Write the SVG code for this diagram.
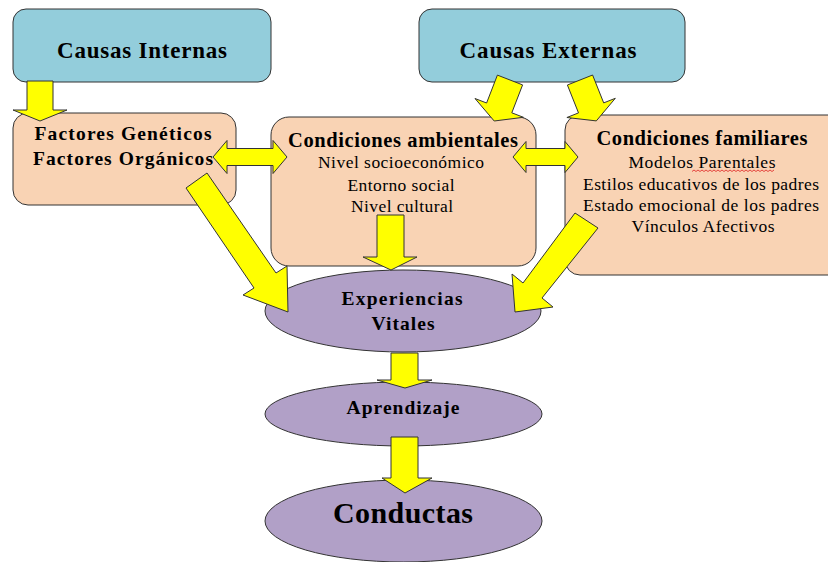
<svg xmlns="http://www.w3.org/2000/svg" width="828" height="562" viewBox="0 0 828 562">
<style>
  .blue { fill: #93CDDB; stroke: #333; stroke-width: 1; }
  .peach { fill: #F9D3B4; stroke: #333; stroke-width: 1; }
  .oval { fill: #B1A0C7; stroke: #333; stroke-width: 1; }
  .arrow { fill: #FFFF00; stroke: #333; stroke-width: 1; stroke-linejoin: miter; }
  text { font-family: "Liberation Serif", "Times New Roman", serif; fill: #000; text-anchor: middle; }
  .b { font-weight: bold; }
  .t24 { font-size: 23px; }
  .t19 { font-size: 20.5px; }
  .t18 { font-size: 19.5px; }
  .t17 { font-size: 17.5px; }
  .t30 { font-size: 30px; }
</style>
<rect width="828" height="562" fill="#FFFFFF"/>
<g id="causas-internas">
  <rect class="blue" x="13" y="9" width="258" height="73" rx="13"/>
  <text class="b t24" x="142" y="58" textLength="170" lengthAdjust="spacing">Causas Internas</text>
</g>
<g id="causas-externas">
  <rect class="blue" x="419" y="9" width="266" height="73" rx="13"/>
  <text class="b t24" x="548" y="58" textLength="177" lengthAdjust="spacing">Causas Externas</text>
</g>
<g id="factores">
  <rect class="peach" x="13" y="113" width="223" height="92" rx="15"/>
  <text class="b t18" x="123" y="140" textLength="177" lengthAdjust="spacing">Factores Genéticos</text>
  <text class="b t18" x="123" y="165" textLength="180" lengthAdjust="spacing">Factores Orgánicos</text>
</g>
<g id="condiciones-ambientales">
  <rect class="peach" x="271" y="117" width="265" height="149" rx="18"/>
  <text class="b t19" x="403" y="147" textLength="230" lengthAdjust="spacing">Condiciones ambientales</text>
  <text class="t17" x="401" y="168" textLength="166" lengthAdjust="spacing">Nivel socioeconómico</text>
  <text class="t17" x="401" y="191" textLength="107" lengthAdjust="spacing">Entorno social</text>
  <text class="t17" x="402" y="212" textLength="102" lengthAdjust="spacing">Nivel cultural</text>
</g>
<g id="condiciones-familiares">
  <rect class="peach" x="565" y="115" width="280" height="160" rx="15"/>
  <text class="b t19" x="702" y="145" textLength="211" lengthAdjust="spacing">Condiciones familiares</text>
  <text class="t17" x="702" y="168" textLength="147" lengthAdjust="spacing">Modelos Parentales</text>
  <path d="M692 171.5 l2 -1.5 l2 1.5 l2 -1.5 l2 1.5 l2 -1.5 l2 1.5 l2 -1.5 l2 1.5 l2 -1.5 l2 1.5 l2 -1.5 l2 1.5 l2 -1.5 l2 1.5 l2 -1.5 l2 1.5 l2 -1.5 l2 1.5 l2 -1.5 l2 1.5 l2 -1.5 l2 1.5 l2 -1.5 l2 1.5 l2 -1.5 l2 1.5 l2 -1.5 l2 1.5 l2 -1.5 l2 1.5 l2 -1.5 l2 1.5 l2 -1.5 l2 1.5 l2 -1.5 l2 1.5 l2 -1.5 l2 1.5 l2 -1.5 l2 1.5 l2 -1.5" fill="none" stroke="#E02020" stroke-width="0.8"/>
  <text class="t17" x="701" y="190" textLength="236" lengthAdjust="spacing">Estilos educativos de los padres</text>
  <text class="t17" x="701" y="211" textLength="236" lengthAdjust="spacing">Estado emocional de los padres</text>
  <text class="t17" x="703" y="232" textLength="143" lengthAdjust="spacing">Vínculos Afectivos</text>
</g>
<g id="experiencias-vitales">
  <ellipse class="oval" cx="403" cy="311" rx="138" ry="41"/>
  <text class="b t18" x="402" y="305" textLength="121" lengthAdjust="spacing">Experiencias</text>
  <text class="b t18" x="403" y="330" textLength="63" lengthAdjust="spacing">Vitales</text>
</g>
<g id="aprendizaje">
  <ellipse class="oval" cx="403.5" cy="414" rx="138.5" ry="32"/>
  <text class="b t18" x="403" y="414" textLength="113" lengthAdjust="spacing">Aprendizaje</text>
</g>
<g id="conductas">
  <ellipse class="oval" cx="403.5" cy="521" rx="138.5" ry="41"/>
  <text class="b t30" x="403" y="523" textLength="140" lengthAdjust="spacing">Conductas</text>
</g>
<g id="connectors">
  <polygon class="arrow" points="27,81 53,81 53,110 67,110 40,121 13,110 27,110"/>
  <polygon class="arrow" points="497.4,75.1 522.6,84.9 511.8,112.8 523.4,117.3 494.2,121 475,98.5 486.6,103"/>
  <polygon class="arrow" points="567.4,85 592.6,75 603.7,102.9 615.3,98.3 596.3,120.9 566.9,117.5 578.5,112.9"/>
  <polygon class="arrow" points="213,157 227,140.5 227,148.5 273,148.5 273,140.5 287,157 273,173.5 273,165.5 227,165.5 227,173.5"/>
  <polygon class="arrow" points="513,157 526,141.5 526,148.5 565,148.5 565,141.5 578,157 565,172.5 565,165.5 526,165.5 526,172.5"/>
  <polygon class="arrow" points="377,215 404,215 404,257 417,257 391,270 363,257 377,257"/>
  <polygon class="arrow" points="186,188 207,173 276,273 287,266 288,312 243,295 254,288"/>
  <polygon class="arrow" points="575,213 598,228 542,298 553,307 515,312 512,274 523,283"/>
  <polygon class="arrow" points="391,353 418,353 418,380 432,380 405,388 377,380 391,380"/>
  <polygon class="arrow" points="391,437 418,437 418,478 432,478 405,493 382,478 391,478"/>
</g>
</svg>
